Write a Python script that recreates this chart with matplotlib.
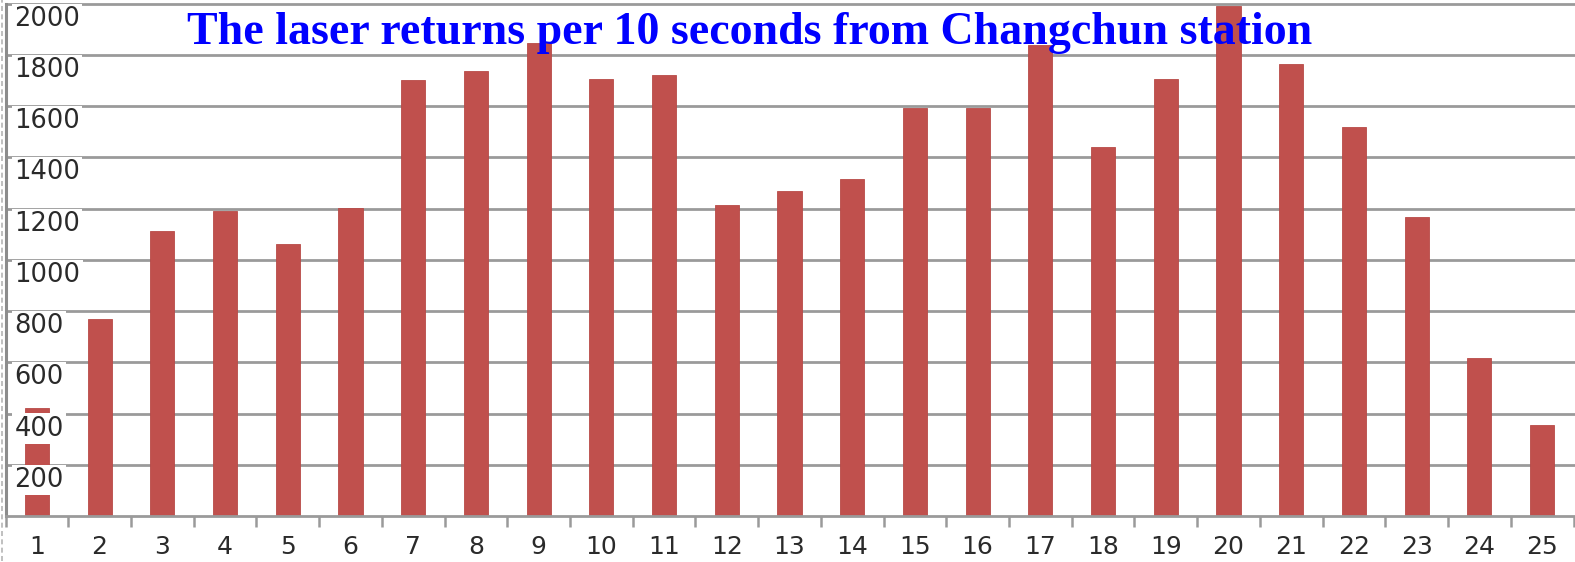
import matplotlib
matplotlib.use("Agg")
import matplotlib.pyplot as plt
from matplotlib.ticker import FixedLocator

# Laser returns counted in each 10-second interval
intervals = list(range(1, 26))
returns = [422, 770, 1112, 1190, 1061, 1203, 1702, 1739, 1846, 1706,
           1720, 1216, 1268, 1314, 1593, 1593, 1840, 1440, 1706, 1990,
           1766, 1519, 1168, 617, 356]
y_ticks = [200, 400, 600, 800, 1000, 1200, 1400, 1600, 1800, 2000]
title = "The laser returns per 10 seconds from Changchun station"

W, H, DPI = 1575, 562, 100
fig = plt.figure(figsize=(W / DPI, H / DPI), dpi=DPI)
fig.patch.set_facecolor("white")

left_px, right_px, bottom_px, top_px = 5.5, 1573.5, 516.0, 3.7
ax = fig.add_axes([left_px / W, (H - bottom_px) / H,
                   (right_px - left_px) / W, (bottom_px - top_px) / H])
ax.set_facecolor("white")

bar_color = "#C0504D"
grid_color = "#9a9a9a"

ax.bar(intervals, returns, width=0.385, color=bar_color,
       edgecolor="#b84a47", linewidth=0.6, zorder=2)

ax.set_xlim(0.5, 25.5)
ax.set_ylim(0, 2000)

# horizontal gridlines behind the bars
for v in y_ticks:
    ax.axhline(v, color=grid_color, lw=2.0, zorder=1, clip_on=False)

# y-axis value labels sit inside the plot, just under each gridline
for v in y_ticks:
    ax.annotate(str(v), xy=(0, v), xycoords=("axes fraction", "data"),
                xytext=(9, -15), textcoords="offset pixels",
                ha="left", va="center", fontsize=18.5, color="#2a2a2a",
                family="DejaVu Sans", zorder=4,
                bbox=dict(boxstyle="square,pad=0.08", fc="white", ec="none"))

ax.set_yticks([])

# category labels at bar centres, tick marks at the category boundaries
ax.set_xticks(intervals)
ax.set_xticklabels([str(i) for i in intervals], fontsize=18,
                   color="#2a2a2a", family="DejaVu Sans")
ax.tick_params(axis="x", which="major", length=0, pad=14)
ax.xaxis.set_minor_locator(FixedLocator([i + 0.5 for i in range(0, 26)]))
ax.tick_params(axis="x", which="minor", length=8, width=1.8,
               color=grid_color, direction="out")

for side in ("top", "right"):
    ax.spines[side].set_visible(False)
ax.spines["left"].set_color("#8c8c8c")
ax.spines["left"].set_linewidth(2.2)
ax.spines["bottom"].set_color(grid_color)
ax.spines["bottom"].set_linewidth(2.0)

# second, fainter rule beside the value axis
fig.add_artist(plt.Line2D([2.0 / W, 2.0 / W], [(H - bottom_px - 45) / H, 1.0],
                          color="#b5b5b5", lw=1.2, ls=(0, (3, 2))))

fig.text(750 / W, (H - 43.5) / H, title, ha="center", va="baseline",
         fontsize=33, fontweight="bold", color="#0000FF",
         family="Liberation Serif", zorder=10)

fig.savefig("out.png", dpi=DPI, facecolor="white")
